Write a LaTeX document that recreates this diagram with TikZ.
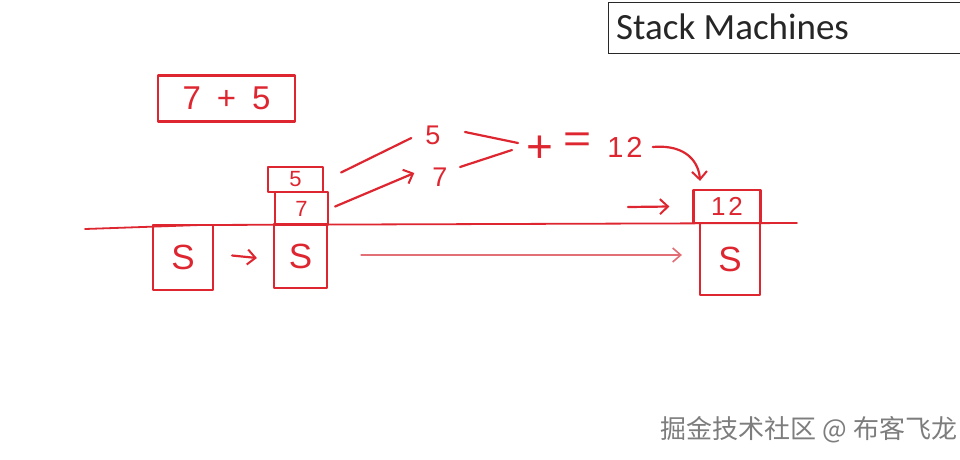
\documentclass[tikz,border=0pt]{standalone}
\usepackage{fontspec}
\setmainfont{Liberation Sans}
\newfontfamily\titlefont{Carlito}
\newfontfamily\cjk{Noto Sans CJK SC}
\usetikzlibrary{arrows.meta,calc}
\definecolor{inkred}{RGB}{222,38,48}
\definecolor{palered}{RGB}{226,110,118}
\definecolor{wmgray}{RGB}{125,125,125}
\definecolor{titleframe}{RGB}{40,40,40}
\tikzset{
  ink/.style={draw=inkred, line width=2.2pt, line cap=round, line join=round},
  thinink/.style={draw=palered, line width=1.6pt, line cap=round},
  box/.style={ink, rectangle, inner sep=0pt, text=inkred, font=\fontsize{22}{22}\selectfont},
  sbox/.style={box, font=\fontsize{35}{35}\selectfont},
  hand/.style={text=inkred, inner sep=0pt, font=\fontsize{27}{27}\selectfont},
  tip/.style={-{Straight Barb[length=8pt,width=15pt,line width=2pt]}},
}
\begin{document}
\begin{tikzpicture}[x=1pt,y=-1pt]
\useasboundingbox (0,0) rectangle (960,459);
\fill[white] (0,0) rectangle (960,459);

% title
\node[draw=titleframe, line width=1.2pt, rectangle, anchor=north west, minimum width=362pt, minimum height=51pt, inner sep=0pt] (tbox) at (608,2) {};
\node[anchor=west, inner sep=0pt, text=black!85, font=\titlefont\fontsize{37}{37}\selectfont] (title) at (616,27) {Stack Machines};

% 7 + 5 box
\node[box, minimum width=137pt, minimum height=46pt, font=\fontsize{33}{33}\selectfont] (expr) at (226.5,98.5) {7\hspace{16pt}+\hspace{16pt}5};

% ground line
\coordinate (g1) at (85,229);
\coordinate (g2) at (200,225);
\coordinate (g3) at (797,223);
\draw[ink, line width=1.8pt] (g1) -- (g2) -- (g3);

% stacks
\node[sbox, minimum width=60pt, minimum height=65pt] (s1) at (183,257.5) {S};
\node[sbox, minimum width=53pt, minimum height=64pt] (s2) at (300.5,256) {S};
\node[box, minimum width=53pt, minimum height=33pt] (b7) at (301.5,208.5) {7};
\node[box, minimum width=55pt, minimum height=25pt] (b5) at (295.5,179.5) {5};
\node[box, minimum width=67pt, minimum height=33pt, font=\fontsize{26}{26}\selectfont] (b12) at (727,206.5) {1\hspace{3pt}2};
\node[sbox, minimum width=60pt, minimum height=72pt] (s3) at (730,259) {S};

% labels
\node[hand] (n5) at (433,135) {5};
\node[hand] (n7) at (440,177) {7};
\node[hand, font=\fontsize{46}{46}\selectfont] (plus) at (540,149) {+};
\node[hand, font=\fontsize{40}{40}\selectfont, xscale=1.2] (eq) at (578,143) {=};
\node[hand, font=\fontsize{29}{29}\selectfont] (n12) at (625,147) {1\hspace{3pt}2};

% connectors
\draw[ink, tip] ($(s1.east)+(18,-2)$) -- ($(s2.west)+(-16,2)$);
\draw[ink] ($(b5.east)+(17,-7)$) -- ($(n5.west)+(-14,3)$);
\draw[ink, tip] ($(b7.east)+(6,-2)$) -- ($(n7.west)+(-18,-4)$);
\coordinate (brA) at (465,132);
\coordinate (brB) at (518,143);
\coordinate (brC) at (460,167);
\coordinate (brD) at (512,150);
\draw[ink] (brA) -- (brB);
\draw[ink] (brC) -- (brD);
\draw[ink, tip] ($(n12.east)+(10,0)$) .. controls ($(n12.east)+(45,-3)$) and ($(b12.north)+(-28,-25)$) .. ($(b12.north)+(-27,-8)$);
\coordinate (a12) at (628,207);
\draw[ink, tip] (a12) -- ($(b12.west)+(-23,0)$);
\draw[thinink, -{Straight Barb[length=8pt,width=14pt,line width=1.6pt]}] ($(s2.east)+(33,-1)$) -- ($(s3.west)+(-17,-4)$);

% watermark
\node[anchor=center, inner sep=0pt, text=wmgray, font=\cjk\fontsize{26}{26}\selectfont] (wm) at (809,430) {掘金技术社区 @ 布客飞龙};
\end{tikzpicture}
\end{document}
